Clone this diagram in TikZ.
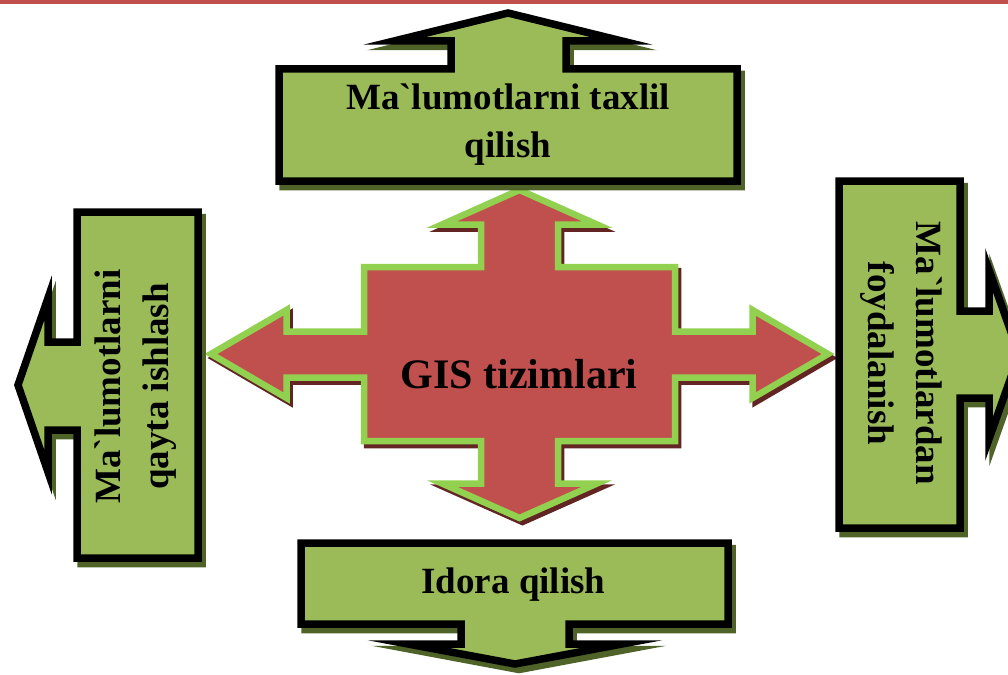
\documentclass[tikz,border=0pt]{standalone}
\usepackage{fontspec}
\newfontfamily\uzfont{Liberation Serif}
\definecolor{calloutgreen}{HTML}{9BBB59}
\definecolor{shadowgreen}{HTML}{4F6228}
\definecolor{crossred}{HTML}{C0504D}
\definecolor{crossgreen}{HTML}{92D050}
\definecolor{shadowred}{HTML}{632523}
\newcommand*\pTop{(279,69) -- (451,69) -- (451,41) -- (394,41) -- (508,13) -- (622,41) -- (566,41) -- (566,69) -- (737,69) -- (737,181) -- (279,181) -- cycle}
\newcommand*\pLeft{(77,212) -- (198,212) -- (198,558) -- (77,558) -- (77,430) -- (48,430) -- (48,472) -- (18,385) -- (48,298) -- (48,342) -- (77,342) -- cycle}
\newcommand*\pRight{(839,181) -- (960,181) -- (960,311) -- (989,311) -- (989,270) -- (1019,354.5) -- (989,439) -- (989,398) -- (960,398) -- (960,528) -- (839,528) -- cycle}
\newcommand*\pBottom{(301,543) -- (728,543) -- (728,624) -- (569,624) -- (569,644) -- (622,644) -- (515,664) -- (408,644) -- (461,644) -- (461,624) -- (301,624) -- cycle}
\newcommand*\pCross{(364,267) -- (481,267) -- (481,224.5) -- (442,224.5) -- (519.5,190) -- (597,224.5) -- (558,224.5) -- (558,267) -- (675,267) -- (675,331.5) -- (752.5,331.5) -- (752.5,310) -- (828,354) -- (752.5,398) -- (752.5,377.5) -- (675,377.5) -- (675,441) -- (558,441) -- (558,483.5) -- (597,483.5) -- (519.5,518) -- (442,483.5) -- (481,483.5) -- (481,441) -- (364,441) -- (364,377.5) -- (286.5,377.5) -- (286.5,398) -- (211,354) -- (286.5,310) -- (286.5,331.5) -- (364,331.5) -- cycle}
\begin{document}
\begin{tikzpicture}[x=1pt,y=-1pt,
  callout/.style={fill=calloutgreen,draw=black,line width=7.5pt,line join=miter,miter limit=20},
  calloutshadow/.style={fill=shadowgreen,draw=shadowgreen,line width=7.5pt,line join=miter,miter limit=20,shift={(4,5.5)}},
  crossshape/.style={fill=crossred,draw=crossgreen,line width=6.5pt,line join=miter,miter limit=20},
  crossshadow/.style={fill=shadowred,draw=shadowred,line width=6.5pt,line join=miter,miter limit=20,shift={(3,4)}},
  lbl/.style={font=\uzfont\bfseries\fontsize{37}{48}\selectfont,align=center,inner sep=0pt}]
\useasboundingbox (0,0) rectangle (1008,674);
\clip (0,0) rectangle (1008,674);
\fill[crossred] (0,0) rectangle (1008,4.5);
% central cross
\path[crossshadow] \pCross;
\path[crossshape] \pCross;
% callouts
\path[calloutshadow] \pTop;
\path[callout] \pTop;
\path[calloutshadow] \pLeft;
\path[callout] \pLeft;
\path[calloutshadow] \pRight;
\path[callout] \pRight;
\path[calloutshadow] \pBottom;
\path[callout] \pBottom;
% texts
\node[font=\uzfont\bfseries\fontsize{42}{50}\selectfont,inner sep=0pt,anchor=base] (tgis) at (519,388) {GIS tizimlari};
\node[lbl] (ttop) at (508,124.9) {Ma`lumotlarni taxlil\\qilish};
\node[lbl,rotate=90] (tleft) at (135.4,386.5) {Ma`lumotlarni\\qayta ishlash};
\node[lbl,rotate=-90] (tright) at (901.6,353.5) {Ma`lumotlardan\\foydalanish};
\node[lbl,anchor=base] (tbot) at (513.5,593) {Idora qilish};
\end{tikzpicture}
\end{document}
